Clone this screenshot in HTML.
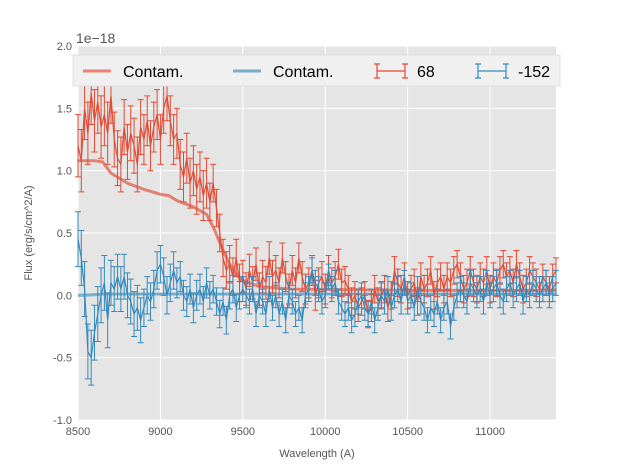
<!DOCTYPE html>
<html><head><meta charset="utf-8"><style>
body{margin:0;background:#fff;width:617px;height:467px;overflow:hidden}
text{font-family:"Liberation Sans",sans-serif}
</style></head><body>
<svg id="chart" width="617" height="467" xmlns="http://www.w3.org/2000/svg"></svg>
<script>
const x0 = 8500, dx = 20;
const redFlux = [1.2,1.08,1.5,1.3,1.62,1.4,1.55,1.35,1.45,1.3,1.6,
1.25,1.1,1.05,1.35,1.15,1.3,1.2,1.05,1.35,1.25,
1.4,1.2,1.35,1.45,1.25,1.5,1.6,1.4,1.25,1.3,
1.05,0.95,1.1,0.9,1.0,0.85,0.95,0.8,0.9,0.75,
0.9,0.7,0.5,0.3,0.2,0.25,0.15,0.3,0.1,0.15,
0.05,0.2,0.1,0.25,0.05,0.15,0.1,0.3,0.15,0.2,
0.1,0.3,0.15,0.05,0.2,0.1,0.3,0.15,0.05,0.1,
0.2,0.0,0.1,0.15,0.05,0.2,0.1,0.15,0.25,0.1,
0.12,0.05,-0.05,0.0,-0.1,-0.05,0.0,-0.15,-0.1,0.05,
-0.05,0.0,0.05,-0.1,0.0,0.2,0.1,0.05,0.15,0.0,
0.05,0.1,-0.05,0.15,0.05,0.1,0.2,0.0,0.1,0.15,
0.05,0.15,0.1,0.2,0.25,0.15,0.05,0.1,0.2,0.1,
0.05,0.15,0.1,0.2,0.05,0.15,0.1,0.2,0.25,0.15,
0.2,0.1,0.25,0.15,0.05,0.1,0.2,0.15,0.1,0.05,
0.15,0.1,0.05,0.15,0.2];
const blueFlux = [0.45,0.3,0.05,-0.45,-0.5,-0.3,-0.15,0.0,0.1,-0.2,0.1,
0.05,0.15,0.05,0.15,0.0,-0.05,-0.15,-0.1,-0.2,-0.1,
0.0,-0.05,0.05,0.2,0.25,0.15,0.0,0.1,0.2,0.1,
0.15,0.0,-0.05,0.05,-0.1,0.0,0.05,-0.05,0.1,0.0,
0.05,-0.05,-0.15,-0.05,-0.2,0.0,0.05,-0.1,0.0,0.05,
0.0,-0.05,0.05,-0.15,0.0,-0.05,-0.15,0.05,-0.1,0.0,
-0.15,-0.05,-0.2,0.0,-0.05,-0.15,-0.1,-0.2,0.0,0.05,
0.2,0.1,0.05,-0.05,0.0,0.15,0.05,0.1,-0.05,-0.1,
-0.15,-0.1,-0.2,-0.15,-0.05,0.0,-0.1,-0.15,-0.05,-0.2,
-0.1,0.0,-0.05,0.05,-0.1,0.0,0.05,-0.05,0.1,-0.05,
0.0,-0.1,0.05,-0.05,-0.1,-0.2,-0.1,-0.15,-0.05,-0.2,
-0.1,-0.05,-0.25,-0.1,0.0,0.05,0.0,-0.05,0.1,0.05,
0.0,0.05,-0.05,0.1,0.0,0.05,0.1,0.0,-0.05,0.05,
0.1,0.0,0.05,0.1,-0.05,0.05,0.0,0.1,0.05,0.0,
0.05,0.1,0.0,0.05,0.1];
const redErrPer10 = [0.25,0.22,0.2,0.2,0.15,0.13,0.12,0.12,0.11,0.11,0.11,0.11,0.11,0.11,0.1];
const blueErrPer10 = [0.22,0.18,0.15,0.12,0.11,0.1,0.1,0.1,0.1,0.1,0.1,0.1,0.1,0.1,0.1];
const contamWave = [8500,8600,8650,8700,8800,8900,9000,9050,9100,9200,9280,9330,9380,9420,9460,9500,9600,9800,10500,11400];
const contamRed = [1.08,1.08,1.07,0.98,0.9,0.85,0.81,0.8,0.76,0.71,0.65,0.52,0.36,0.25,0.17,0.12,0.07,0.05,0.04,0.04];
const contamBlue = [0.0,0.005,0.01,0.01,0.01,0.01,0.01,0.01,0.01,0.01,0.01,0.01,0.01,0.01,0.01,0.01,0.01,0.01,0.01,0.01];
const xTicks = [8500,9000,9500,10000,10500,11000];
const yTicks = [-1.0,-0.5,0.0,0.5,1.0,1.5,2.0];

const L=78,R=556,T=46,B=420, xmin=8500,xmax=11400,ymin=-1,ymax=2;
const sx=v=>L+(v-xmin)/(xmax-xmin)*(R-L);
const sy=v=>B-(v-ymin)/(ymax-ymin)*(B-T);
const svg=document.getElementById('chart');
const NS='http://www.w3.org/2000/svg';
function mk(tag,attrs,parent){const e=document.createElementNS(NS,tag);for(const k in attrs)e.setAttribute(k,attrs[k]);(parent||svg).appendChild(e);return e;}

const bg=mk('rect',{x:L,y:T,width:R-L,height:B-T,fill:'#e5e5e5'});


xTicks.forEach(t=>{
  const g=mk('line',{x1:sx(t),x2:sx(t),y1:T,y2:B,stroke:'#fff','stroke-width':1});
  
  
  const lb=mk('text',{x:sx(t),y:B+15,'text-anchor':'middle','font-size':11,fill:'#555'});
  lb.textContent=t;
  
  
});
yTicks.forEach(t=>{
  const g=mk('line',{x1:L,x2:R,y1:sy(t),y2:sy(t),stroke:'#fff','stroke-width':1});
  
  
  const lb=mk('text',{x:L-6,y:sy(t)+4,'text-anchor':'end','font-size':11,fill:'#555'});
  lb.textContent=t.toFixed(1);
  
  
});

function contam(vals,color,name){
  const d=contamWave.map((w,i)=>(i?'L':'M')+sx(w)+','+sy(vals[i])).join('');
  const p=mk('path',{d,fill:'none',stroke:color,'stroke-width':3,'stroke-opacity':0.65});
  
  
}
function series(vals,errs,color,name){
  const g=mk('g',{});
  
  
  vals.forEach((v,i)=>{
    const x=sx(x0+i*dx), e=errs[Math.min(errs.length-1,Math.floor(i/10))];
    const a=sy(v+e),b=sy(v-e);
    mk('path',{d:`M${x},${a}L${x},${b}M${x-3},${a}L${x+3},${a}M${x-3},${b}L${x+3},${b}`,stroke:color,'stroke-width':1,fill:'none'},g);
  });
  const d=vals.map((v,i)=>(i?'L':'M')+sx(x0+i*dx)+','+sy(v)).join('');
  mk('path',{d,fill:'none',stroke:color,'stroke-width':1.2},g);
}
contam(contamRed,'#E24A33','contam-red-line');
contam(contamBlue,'#348ABD','contam-blue-line');
series(redFlux,redErrPer10,'#E24A33','series-68');
series(blueFlux,blueErrPer10,'#348ABD','series-minus-152');

const off=mk('text',{x:76,y:43,'font-size':14,fill:'#555'});off.textContent='1e\u221218';


const yl=mk('text',{x:32,y:233,'font-size':11,fill:'#555','text-anchor':'middle',transform:'rotate(-90 32 233)'});
yl.textContent='Flux (erg/s/cm^2/A)';


const xl=mk('text',{x:317,y:457,'font-size':11,fill:'#555','text-anchor':'middle'});
xl.textContent='Wavelength (A)';



const lg=mk('g',{});


mk('rect',{x:73,y:55,width:487,height:31,fill:'#f0f0f0',stroke:'#e0e0e0'},lg);
function entry(x,color,label,eb,name){
  const g=mk('g',{},lg);
  
  
  if(eb){
    mk('path',{d:`M${x},71L${x+28},71M${x},64L${x},78M${x+28},64L${x+28},78M${x-3},64L${x+3},64M${x-3},78L${x+3},78M${x+25},64L${x+31},64M${x+25},78L${x+31},78`,stroke:color,'stroke-width':1.2,fill:'none'},g);
  } else mk('line',{x1:x,x2:x+28,y1:71,y2:71,stroke:color,'stroke-width':3,'stroke-opacity':0.65},g);
  const t=mk('text',{x:x+40,y:77,'font-size':16,fill:'#000'},g);t.textContent=label;
}
entry(83,'#E24A33','Contam.',false,'legend-entry-contam-red');
entry(233,'#348ABD','Contam.',false,'legend-entry-contam-blue');
entry(377,'#E24A33','68',true,'legend-entry-68');
entry(478,'#348ABD','-152',true,'legend-entry-minus-152');
</script>
</body></html>
